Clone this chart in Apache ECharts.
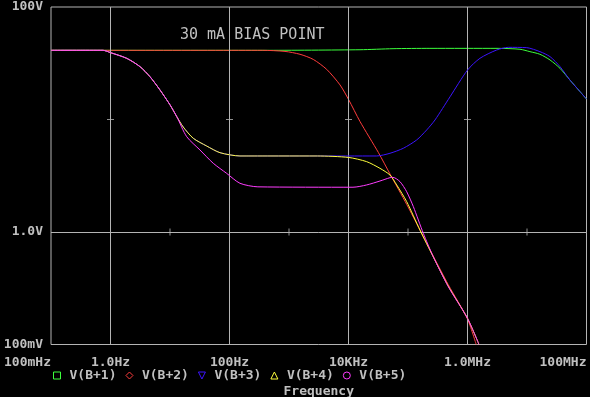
<!DOCTYPE html>
<html>
<head>
<meta charset="utf-8">
<script src="https://cdn.jsdelivr.net/npm/echarts@6/dist/echarts.min.js"></script>
<style>
html,body{margin:0;padding:0;background:#000;}
#chart{width:590px;height:397px;}
</style>
</head>
<body>
<div id="chart"></div>
<script>
// ---- data (frequency in Hz, voltage in V) ----
const seriesNames = ['V(B+1)', 'V(B+2)', 'V(B+3)', 'V(B+4)', 'V(B+5)'];
const seriesColors = ['#3cff3c', '#ff3c3c', '#3c14ff', '#ffff3c', '#ff3cff'];
const legendIcons = ['rect', 'diamond', 'path://M0,0L10,0L5,10Z', 'triangle', 'circle'];

const freqB1 = [0.1, 366, 15600, 56000, 234000, 3.26e6, 7.62e6, 1.12e7, 1.65e7, 2.44e7, 3.59e7, 5.28e7, 7.78e7, 1e8];
const voltB1 = [41.2, 41.2, 41.7, 42.6, 42.9, 42.9, 42.1, 40.1, 38.0, 33.8, 28.5, 22.4, 17.7, 15.2];

const freqB2 = [0.1, 360, 857, 1531, 2560, 4300, 7200, 10000, 15600, 31700, 49800, 95100, 159000, 266000, 475000, 1e6, 1.4e6];
const voltB2 = [41.2, 41.2, 40.3, 38.0, 34.2, 27.9, 20.3, 15.1, 9.6, 5.1, 3.28, 1.76, 1.04, 0.61, 0.34, 0.168, 0.1];

const freqB3 = [0.1, 0.75, 1.0, 1.87, 3.13, 4.61, 6.79, 10, 13, 16.7, 24.6, 41.4, 69.2, 150, 29800, 49800, 83400, 140000, 206000, 284000, 508000, 1e6, 1.62e6, 3.1e6, 4.85e6, 9.9e6, 1.65e7, 2.44e7, 3.59e7, 5.28e7, 7.78e7, 1e8];
const voltB3 = [41.2, 41.2, 39.3, 35.0, 29.5, 24.0, 18.3, 13.5, 10.6, 8.57, 6.81, 5.81, 5.07, 4.74, 4.74, 5.01, 5.55, 6.58, 8.07, 9.9, 15.9, 27.5, 35.0, 41.5, 43.8, 43.5, 40.1, 36.2, 29.5, 22.4, 17.7, 15.2];

const freqB4 = [0.1, 0.75, 1.0, 1.87, 3.13, 4.61, 6.79, 10, 13, 16.7, 24.6, 41.4, 69.2, 150, 3000, 10000, 20200, 33800, 49800, 64600, 95100, 159000, 266000, 475000, 1e6, 1.56e6];
const voltB4 = [41.2, 41.2, 39.3, 35.0, 29.5, 24.0, 18.3, 13.5, 10.6, 8.57, 6.81, 5.81, 5.07, 4.74, 4.74, 4.6, 4.22, 3.68, 3.21, 2.62, 1.86, 1.04, 0.60, 0.33, 0.171, 0.1];

const freqB5 = [0.1, 0.75, 1.0, 1.87, 3.13, 4.61, 6.79, 10, 13, 19.1, 31.9, 53.4, 89.7, 150, 300, 11900, 20200, 33800, 49800, 56000, 73400, 95100, 123000, 181000, 266000, 475000, 1e6, 1.56e6];
const voltB5 = [41.2, 41.2, 39.3, 35.0, 29.5, 24.0, 18.3, 13.5, 10.6, 7.03, 5.36, 4.08, 3.32, 2.71, 2.52, 2.50, 2.62, 2.84, 3.04, 3.06, 2.80, 2.28, 1.68, 0.973, 0.603, 0.327, 0.171, 0.1];

// axis labels (decade exponent -> text)
const xLabelExps = [-1, 0, 2, 4, 6, 8];
const xLabelTexts = ['100mHz', '1.0Hz', '100Hz', '10KHz', '1.0MHz', '100MHz'];
const yLabelExps = [-1, 0, 2];
const yLabelTexts = ['100mV', '1.0V', '100V'];

// grid lines and small cross ticks
const gridFreqs = [1, 100, 1e4, 1e6];
const gridVolts = [1];
const crossFreqs = [1, 100, 1e4, 1e6];
const crossVolt = 10;
const tickFreqs = [10, 1e3, 1e5, 1e7];
const tickVolt = 1;

const titleText = '30 mA BIAS POINT';
const xAxisName = 'Frequency';

// ---- build chart ----
const FONT = '"DejaVu Sans Mono", "Liberation Mono", monospace';
const GRAY = '#c0c0c0';
const GRIDC = '#b4b4b4';

function pairs(f, v) { return f.map((x, i) => [x, v[i]]); }
const allFreq = [freqB1, freqB2, freqB3, freqB4, freqB5];
const allVolt = [voltB1, voltB2, voltB3, voltB4, voltB5];

const series = [];
series.push({
  type: 'line', name: '_grid', data: [], silent: true, z: 1,
  markLine: {
    silent: true, symbol: ['none', 'none'], animation: false,
    label: { show: false },
    lineStyle: { color: GRIDC, width: 1, type: 'solid' },
    emphasis: { disabled: true },
    data: gridFreqs.map(f => ({ xAxis: f })).concat(gridVolts.map(v => ({ yAxis: v })))
  }
});
series.push({
  type: 'scatter', name: '_ticksH', silent: true, z: 1,
  symbol: 'rect', symbolSize: [7, 1],
  itemStyle: { color: GRIDC },
  data: crossFreqs.map(f => [f, crossVolt])
});
series.push({
  type: 'scatter', name: '_ticksV', silent: true, z: 1,
  symbol: 'rect', symbolSize: [1, 7],
  itemStyle: { color: GRIDC },
  data: tickFreqs.map(f => [f, tickVolt])
});

seriesNames.forEach((n, i) => {
  series.push({
    type: 'line', name: n, z: 3 + i,
    data: pairs(allFreq[i], allVolt[i]),
    showSymbol: false, symbol: 'none',
    smooth: 0.25,
    lineStyle: { color: seriesColors[i], width: 1 },
    itemStyle: { color: seriesColors[i] },
    clip: true
  });
});

const chart = echarts.init(document.getElementById('chart'), null, { renderer: 'canvas' });
chart.setOption({
  animation: false,
  backgroundColor: '#000',
  title: {
    text: titleText, left: 175, top: 23,
    textStyle: { color: GRAY, fontFamily: FONT, fontSize: 15, fontWeight: 'normal' }
  },
  legend: {
    data: seriesNames.map((n, i) => ({
      name: n, icon: legendIcons[i],
      itemStyle: { color: 'transparent', borderColor: seriesColors[i], borderWidth: 1 }
    })),
    left: 48, top: 364,
    itemWidth: 7, itemHeight: 7, itemGap: 9,
    selectedMode: false,
    textStyle: { color: GRAY, fontFamily: FONT, fontSize: 13, fontWeight: 'bold', padding: [0, 0, 0, 4] }
  },
  grid: {
    left: 51, right: 3.5, top: 7, bottom: 52.5,
    outerBoundsMode: 'none', containLabel: false,
    show: true, backgroundColor: '#000', borderColor: GRIDC, borderWidth: 1
  },
  xAxis: {
    type: 'log', logBase: 10, min: 0.1, max: 1e8, splitNumber: 9,
    name: xAxisName, nameLocation: 'middle', nameGap: 41,
    nameTextStyle: { color: GRAY, fontFamily: FONT, fontSize: 13, fontWeight: 'bold' },
    axisLine: { show: false }, axisTick: { show: false }, splitLine: { show: false },
    axisLabel: {
      color: GRAY, fontFamily: FONT, fontSize: 13, fontWeight: 'bold', margin: 12,
      showMinLabel: true, showMaxLabel: true,
      alignMinLabel: 'right', alignMaxLabel: 'right',
      formatter: v => { const e = Math.round(Math.log10(v)); const k = xLabelExps.indexOf(e); return k < 0 ? '' : xLabelTexts[k]; }
    }
  },
  yAxis: {
    type: 'log', logBase: 10, min: 0.1, max: 100,
    axisLine: { show: false }, axisTick: { show: false }, splitLine: { show: false },
    axisLabel: {
      color: GRAY, fontFamily: FONT, fontSize: 13, fontWeight: 'bold', margin: 8,
      showMinLabel: true, showMaxLabel: true,
      verticalAlignMinLabel: 'middle', verticalAlignMaxLabel: 'middle',
      formatter: v => { const e = Math.round(Math.log10(v)); const k = yLabelExps.indexOf(e); return k < 0 ? '' : yLabelTexts[k]; }
    }
  },
  series: series
});
</script>
</body>
</html>
